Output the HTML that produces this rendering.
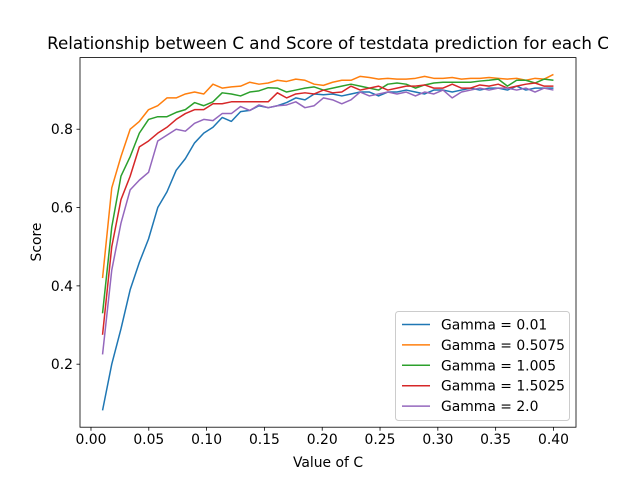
<!DOCTYPE html>
<html><head><meta charset="utf-8"><style>
body{margin:0;background:#fff;}
svg text{font-family:"DejaVu Sans","Liberation Sans",sans-serif;fill:#000;}
</style></head><body>
<svg id="chart" width="640" height="480" xmlns="http://www.w3.org/2000/svg">
<rect width="640" height="480" fill="#fff"/>
<g id="grid"></g>
<g id="lines"></g>
<rect x="80" y="57.6" width="496" height="369.6" fill="none" stroke="#000" stroke-width="0.8"/>
<g id="xt"></g><g id="yt"></g>
<text x="328" y="49" text-anchor="middle" font-size="16.7">Relationship between C and Score of testdata prediction for each C</text>
<text x="328" y="467" text-anchor="middle" font-size="13.9">Value of C</text>
<text transform="translate(41,242) rotate(-90)" text-anchor="middle" font-size="13.9">Score</text>
<g id="legend"></g>
</svg>
<script>
const gammas=["Gamma = 0.01","Gamma = 0.5075","Gamma = 1.005","Gamma = 1.5025","Gamma = 2.0"];
const colors=["#1f77b4","#ff7f0e","#2ca02c","#d62728","#9467bd"];
const xTicks=[0,0.05,0.1,0.15,0.2,0.25,0.3,0.35,0.4];
const xTickLabels=["0.00","0.05","0.10","0.15","0.20","0.25","0.30","0.35","0.40"];
const yTicks=[0.2,0.4,0.6,0.8];
const yTickLabels=["0.2","0.4","0.6","0.8"];
const cStart=0.01, cEnd=0.4, nPoints=50;
const s1=[0.082,0.20,0.29,0.39,0.46,0.52,0.60,0.64,0.695,0.725,0.765,0.79,0.805,0.83,0.82,0.845,0.848,0.86,0.855,0.86,0.868,0.88,0.875,0.89,0.888,0.89,0.885,0.89,0.895,0.895,0.885,0.895,0.895,0.9,0.895,0.89,0.9,0.9,0.895,0.9,0.905,0.9,0.905,0.905,0.9,0.91,0.9,0.905,0.905,0.905];
const s2=[0.42,0.65,0.73,0.80,0.82,0.85,0.86,0.88,0.88,0.89,0.895,0.89,0.915,0.905,0.908,0.91,0.92,0.915,0.918,0.925,0.922,0.928,0.925,0.915,0.912,0.92,0.925,0.925,0.935,0.932,0.928,0.93,0.928,0.928,0.93,0.935,0.93,0.93,0.932,0.928,0.93,0.93,0.932,0.93,0.928,0.93,0.925,0.93,0.928,0.94];
const s3=[0.33,0.55,0.68,0.73,0.79,0.825,0.832,0.832,0.843,0.85,0.868,0.86,0.87,0.893,0.89,0.885,0.895,0.898,0.906,0.905,0.895,0.9,0.905,0.908,0.9,0.905,0.91,0.915,0.91,0.905,0.9,0.915,0.918,0.915,0.905,0.913,0.918,0.92,0.92,0.92,0.92,0.923,0.925,0.928,0.91,0.925,0.925,0.918,0.928,0.925];
const s4=[0.275,0.5,0.62,0.68,0.755,0.77,0.79,0.805,0.825,0.84,0.85,0.85,0.865,0.865,0.87,0.87,0.87,0.87,0.87,0.893,0.88,0.89,0.893,0.89,0.9,0.893,0.895,0.91,0.9,0.905,0.91,0.9,0.905,0.91,0.91,0.913,0.905,0.905,0.915,0.905,0.905,0.913,0.91,0.915,0.905,0.91,0.915,0.918,0.91,0.91];
const s5=[0.225,0.44,0.56,0.645,0.67,0.69,0.77,0.785,0.80,0.795,0.815,0.825,0.822,0.84,0.84,0.858,0.848,0.862,0.855,0.86,0.862,0.87,0.855,0.86,0.88,0.875,0.865,0.875,0.895,0.885,0.89,0.895,0.89,0.895,0.885,0.895,0.89,0.9,0.88,0.895,0.9,0.905,0.9,0.905,0.905,0.9,0.905,0.895,0.905,0.9];
const series=[s1,s2,s3,s4,s5];
const NS="http://www.w3.org/2000/svg";
const cs=[];for(let i=0;i<nPoints;i++)cs.push(cStart+(cEnd-cStart)*i/(nPoints-1));
const all=series.flat();
const xmin=cStart-(cEnd-cStart)*0.05, xmax=cEnd+(cEnd-cStart)*0.05;
const dmin=Math.min(...all), dmax=Math.max(...all), yr=dmax-dmin;
const ymin=dmin-yr*0.05, ymax=dmax+yr*0.05;
const L=80,R=576,T=57.6,B=427.2;
const X=v=>L+(v-xmin)/(xmax-xmin)*(R-L);
const Y=v=>B-(v-ymin)/(ymax-ymin)*(B-T);
function mk(tag,attrs,parent){const e=document.createElementNS(NS,tag);for(const k in attrs)e.setAttribute(k,attrs[k]);parent.appendChild(e);return e;}
const lines=document.getElementById('lines');
series.forEach((s,si)=>{
 const p=mk('polyline',{points:s.map((v,i)=>X(cs[i]).toFixed(2)+','+Y(v).toFixed(2)).join(' '),fill:'none',stroke:colors[si],'stroke-width':1.5,'stroke-linejoin':'round'},lines);
 
 
});
const xt=document.getElementById('xt');
xTicks.forEach((v,i)=>{
 const x=X(v);
 const l=mk('line',{x1:x,x2:x,y1:B,y2:B+3.5,stroke:'#000','stroke-width':0.8},xt);
 
 
 const t=mk('text',{x:x,y:B+17,'text-anchor':'middle','font-size':13.9},xt);
 t.textContent=xTickLabels[i];
 
 
});
const yt=document.getElementById('yt');
yTicks.forEach((v,i)=>{
 const y=Y(v);
 const l=mk('line',{x1:L-3.5,x2:L,y1:y,y2:y,stroke:'#000','stroke-width':0.8},yt);
 
 
 const t=mk('text',{x:L-7,y:y+5,'text-anchor':'end','font-size':13.9},yt);
 t.textContent=yTickLabels[i];
 
 
});
const lg=document.getElementById('legend');
const box=mk('rect',{x:395.5,y:311.5,width:174,height:109,rx:3,fill:'#fff','fill-opacity':0.8,stroke:'#ccc','stroke-width':1},lg);


gammas.forEach((g,i)=>{
 const y=324.5+i*20.4;
 const l=mk('line',{x1:402,x2:430,y1:y,y2:y,stroke:colors[i],'stroke-width':1.5},lg);
 
 
 const t=mk('text',{x:441,y:y+5,'font-size':13.9},lg);
 t.textContent=g;
 
 
});
</script>
</body></html>
